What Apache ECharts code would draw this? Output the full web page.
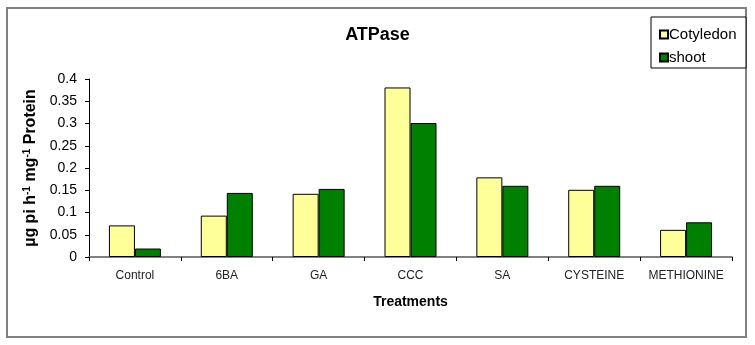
<!DOCTYPE html>
<html><head><meta charset="utf-8">
<script src="https://cdn.jsdelivr.net/npm/echarts@6/dist/echarts.min.js"></script>
<style>html,body{margin:0;padding:0;background:#fff}#c{width:755px;height:345px}</style>
</head><body><div id="c"></div>
<script>
const categories = ['Control','6BA','GA','CCC','SA','CYSTEINE','METHIONINE'];
const cotyledon = [0.071, 0.093, 0.142, 0.381, 0.179, 0.151, 0.061];
const shoot = [0.019, 0.144, 0.153, 0.301, 0.160, 0.160, 0.078];
const yTicks = [0, 0.05, 0.1, 0.15, 0.2, 0.25, 0.3, 0.35, 0.4];

const chart = echarts.init(document.getElementById('c'), null, {renderer:'canvas'});
chart.setOption({
  animation:false,
  backgroundColor:'#fff',
  title:{text:'ATPase', left:'center', top:21, textStyle:{fontFamily:'Liberation Sans, Arial', fontSize:18, fontWeight:'bold', color:'#000'}},
  graphic:[
    {type:'rect', shape:{x:7,y:8,width:739,height:329}, style:{fill:'none', stroke:'#808080', lineWidth:2}, z:-1},
    {type:'rect', shape:{x:651,y:17,width:95,height:51}, style:{fill:'#fff', stroke:'#000', lineWidth:1}, z:1}
  ],
  legend:{
    left:654, top:22, orient:'vertical', itemGap:8, itemWidth:8, itemHeight:8, icon:'rect', z:5,
    textStyle:{fontFamily:'Liberation Sans, Arial', fontSize:15, color:'#000', padding:[0,0,0,-4]},
    data:['Cotyledon','shoot']
  },
  grid:{left:89, right:23, top:79, bottom:88},
  xAxis:{
    type:'category', data:categories,
    name:'Treatments', nameLocation:'middle', nameGap:38,
    nameTextStyle:{fontFamily:'Liberation Sans, Arial', fontSize:14, fontWeight:'bold', color:'#000'},
    axisLine:{lineStyle:{color:'#808080', width:2}},
    axisTick:{show:true, length:4, lineStyle:{color:'#000'}},
    axisLabel:{interval:0, fontFamily:'Liberation Sans, Arial', fontSize:12, color:'#222', margin:13}
  },
  yAxis:{
    type:'value', min:0, max:0.4, interval:0.05,
    name:'{n|µg pi h}{s|-1}{n| mg}{s|-1}{n| Protein}', nameLocation:'middle', nameRotate:90, nameGap:50,
    nameTextStyle:{rich:{
      n:{fontFamily:'Liberation Sans, Arial', fontSize:16, fontWeight:'bold', color:'#000'},
      s:{fontFamily:'Liberation Sans, Arial', fontSize:10, fontWeight:'bold', color:'#000', verticalAlign:'top', padding:[0,0,7,0]}
    }},
    axisLine:{show:true, lineStyle:{color:'#000', width:1}},
    axisTick:{show:true, length:4, lineStyle:{color:'#000'}},
    splitLine:{show:false},
    axisLabel:{fontFamily:'Liberation Sans, Arial', fontSize:14, color:'#000', margin:12,
      formatter:v=>{const t=yTicks.find(x=>Math.abs(x-v)<1e-9); return t===undefined?'':String(t);}}
  },
  series:[
    {name:'Cotyledon', type:'bar', data:cotyledon, barWidth:26, barGap:'0%',
     itemStyle:{color:'#FFFF99', borderColor:'#000', borderWidth:1}},
    {name:'shoot', type:'bar', data:shoot, barWidth:26, barGap:'0%',
     itemStyle:{color:'#008000', borderColor:'#000', borderWidth:1}}
  ]
});
</script></body></html>
